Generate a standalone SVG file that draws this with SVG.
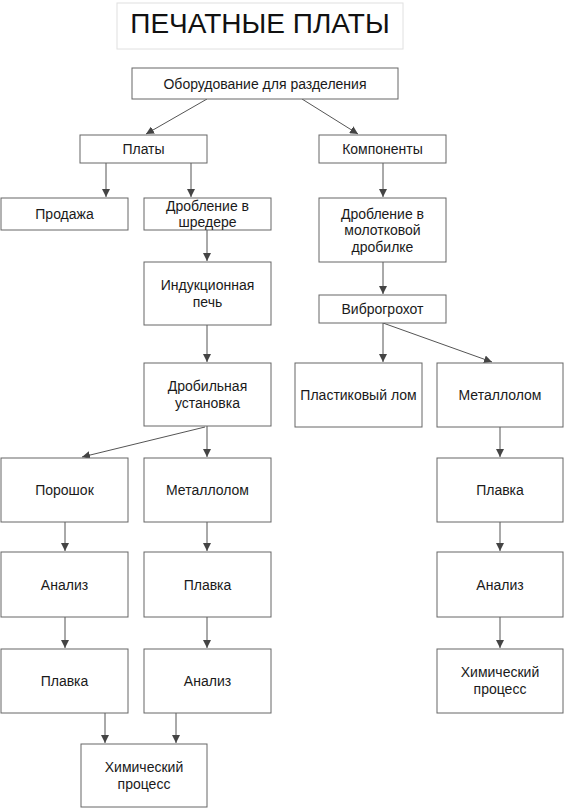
<svg xmlns="http://www.w3.org/2000/svg" width="567" height="810" viewBox="0 0 567 810">
<style>
.box{fill:#fff;stroke:#666;stroke-width:1}
.t{font-family:"Liberation Sans",Arial,sans-serif;font-size:14px;fill:#1a1a1a;text-anchor:middle;dominant-baseline:central}
.c{stroke:#555;stroke-width:1;fill:none;marker-end:url(#ah)}
</style>
<defs>
<marker id="ah" markerWidth="9" markerHeight="8" refX="8" refY="4" orient="auto" markerUnits="userSpaceOnUse">
<path d="M0,0 L8,4 L0,8 Z" fill="#444"/>
</marker>
</defs>
<rect width="567" height="810" fill="#fff"/>
<g id="title">
<rect x="117" y="3" width="286" height="46" fill="#fff" stroke="#e0e0e0"/>
<text x="260" y="33" font-family="Liberation Sans,Arial,sans-serif" font-size="28" text-anchor="middle" fill="#111">ПЕЧАТНЫЕ ПЛАТЫ</text>
</g>
<g id="connectors">
<line class="c" x1="207" y1="99" x2="146" y2="134"/>
<line class="c" x1="302" y1="99" x2="358" y2="134"/>
<line class="c" x1="106" y1="163" x2="106" y2="197"/>
<line class="c" x1="191" y1="163" x2="191" y2="197"/>
<line class="c" x1="207" y1="230" x2="207" y2="261"/>
<line class="c" x1="207" y1="325" x2="207" y2="362"/>
<line class="c" x1="207" y1="426" x2="207" y2="457"/>
<line class="c" x1="205" y1="427" x2="82" y2="457"/>
<line class="c" x1="65" y1="522" x2="65" y2="551"/>
<line class="c" x1="207" y1="522" x2="207" y2="551"/>
<line class="c" x1="65" y1="617" x2="65" y2="648"/>
<line class="c" x1="207" y1="617" x2="207" y2="648"/>
<line class="c" x1="105" y1="713" x2="105" y2="743"/>
<line class="c" x1="176" y1="713" x2="176" y2="743"/>
<line class="c" x1="383" y1="163" x2="383" y2="197"/>
<line class="c" x1="383" y1="262" x2="383" y2="294"/>
<line class="c" x1="383" y1="323" x2="383" y2="362"/>
<line class="c" x1="383" y1="323" x2="492" y2="362"/>
<line class="c" x1="500" y1="427" x2="500" y2="457"/>
<line class="c" x1="500" y1="522" x2="500" y2="551"/>
<line class="c" x1="500" y1="617" x2="500" y2="648"/>
</g>
<g id="n_oborud"><rect class="box" x="132" y="68" width="266" height="31"/><text class="t" x="265" y="83.5">Оборудование для разделения</text></g>
<g id="n_platy"><rect class="box" x="80" y="135" width="127" height="28"/><text class="t" x="143.5" y="149">Платы</text></g>
<g id="n_komp"><rect class="box" x="319" y="135" width="127" height="28"/><text class="t" x="382.5" y="149">Компоненты</text></g>
<g id="n_prodazha"><rect class="box" x="1" y="198" width="127" height="32"/><text class="t" x="64.5" y="214">Продажа</text></g>
<g id="n_shreder"><rect class="box" x="144" y="198" width="127" height="32"/><text class="t" x="207.5" y="206">Дробление в</text><text class="t" x="207.5" y="222">шредере</text></g>
<g id="n_molot"><rect class="box" x="319" y="198" width="127" height="64"/><text class="t" x="382.5" y="213.5">Дробление в</text><text class="t" x="382.5" y="230">молотковой</text><text class="t" x="382.5" y="246.5">дробилке</text></g>
<g id="n_vibro"><rect class="box" x="319" y="295" width="127" height="28"/><text class="t" x="382.5" y="309">Виброгрохот</text></g>
<g id="n_induk"><rect class="box" x="144" y="262" width="127" height="63"/><text class="t" x="207.5" y="285">Индукционная</text><text class="t" x="207.5" y="302">печь</text></g>
<g id="n_drobil"><rect class="box" x="144" y="363" width="127" height="63"/><text class="t" x="207.5" y="386">Дробильная</text><text class="t" x="207.5" y="403">установка</text></g>
<g id="n_plastik"><rect class="box" x="295" y="363" width="127" height="64"/><text class="t" x="358.5" y="395">Пластиковый лом</text></g>
<g id="n_metall_r"><rect class="box" x="437" y="363" width="126" height="64"/><text class="t" x="500" y="395">Металлолом</text></g>
<g id="n_poroshok"><rect class="box" x="1" y="458" width="127" height="64"/><text class="t" x="64.5" y="490">Порошок</text></g>
<g id="n_metall_m"><rect class="box" x="144" y="458" width="127" height="64"/><text class="t" x="207.5" y="490">Металлолом</text></g>
<g id="n_plavka_r"><rect class="box" x="437" y="458" width="126" height="64"/><text class="t" x="500" y="490">Плавка</text></g>
<g id="n_analiz_l"><rect class="box" x="1" y="552" width="127" height="65"/><text class="t" x="64.5" y="584.5">Анализ</text></g>
<g id="n_plavka_m"><rect class="box" x="144" y="552" width="127" height="65"/><text class="t" x="207.5" y="584.5">Плавка</text></g>
<g id="n_analiz_r"><rect class="box" x="437" y="552" width="126" height="65"/><text class="t" x="500" y="584.5">Анализ</text></g>
<g id="n_plavka_l"><rect class="box" x="1" y="649" width="127" height="64"/><text class="t" x="64.5" y="681">Плавка</text></g>
<g id="n_analiz_m"><rect class="box" x="144" y="649" width="127" height="64"/><text class="t" x="207.5" y="681">Анализ</text></g>
<g id="n_chem_r"><rect class="box" x="437" y="649" width="126" height="64"/><text class="t" x="500" y="672">Химический</text><text class="t" x="500" y="689">процесс</text></g>
<g id="n_chem_l"><rect class="box" x="81" y="744" width="126" height="63"/><text class="t" x="144" y="767">Химический</text><text class="t" x="144" y="784">процесс</text></g>
</svg>
